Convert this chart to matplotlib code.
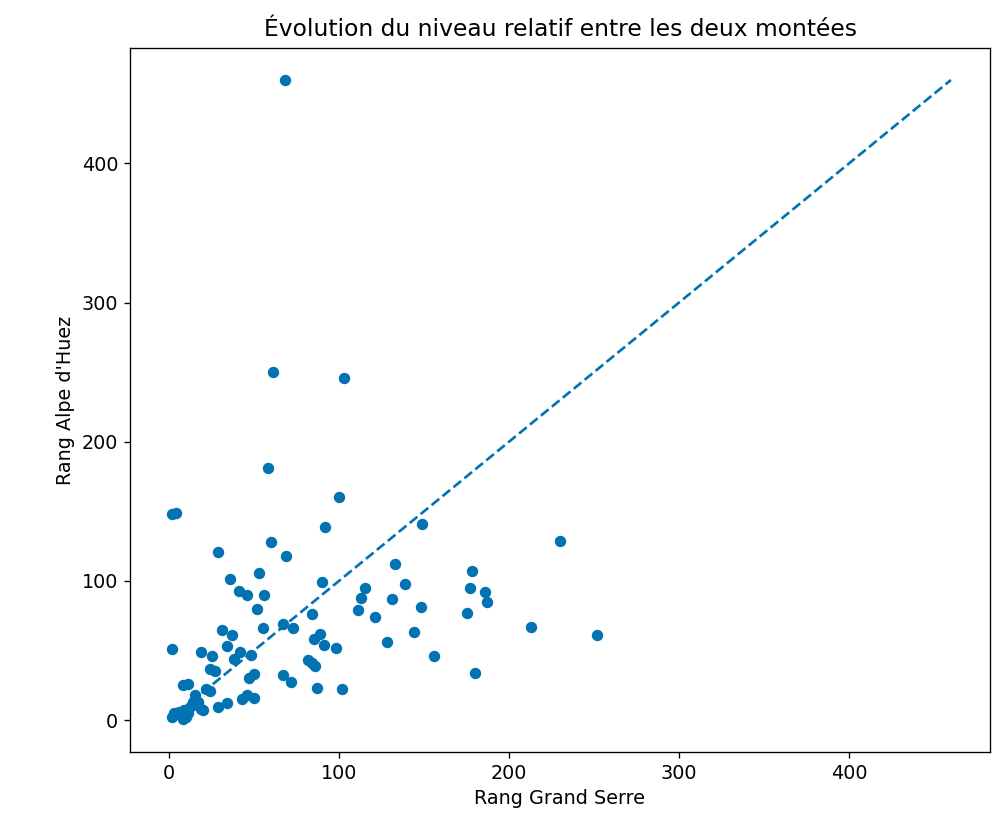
import matplotlib
matplotlib.use('Agg')
import matplotlib.pyplot as plt
import numpy as np

# rangs (Grand Serre, Alpe d'Huez)
rang_gs = [68, 61, 103, 58, 100, 2, 4, 92, 60, 149,
           29, 69, 133, 36, 53, 41, 46, 56, 90, 230,
           178, 177, 186, 187, 115, 139, 113, 131, 148, 175,
           111, 121, 52, 84, 31, 37, 55, 67, 73, 34,
           89, 85, 91, 98, 144, 128, 156, 213, 252, 180,
           2, 19, 25, 38, 42, 48, 24, 27, 82, 84,
           86, 47, 50, 67, 72, 8, 11, 22, 24, 87,
           102, 43, 46, 50, 29, 34, 15, 14, 17, 13,
           19, 20, 3, 6, 9, 11, 8, 10, 2]
rang_adh = [460, 250, 246, 181, 160, 148, 149, 139, 128, 141,
            121, 118, 112, 101, 106, 93, 90, 90, 99, 129,
            107, 95, 92, 85, 95, 98, 88, 87, 81, 77,
            79, 74, 80, 76, 65, 61, 66, 69, 66, 53,
            62, 58, 54, 52, 63, 56, 46, 67, 61, 34,
            51, 49, 46, 44, 49, 47, 37, 35, 43, 41,
            39, 30, 33, 32, 27, 25, 26, 22, 21, 23,
            22, 15, 18, 16, 9, 12, 18, 13, 13, 10,
            8, 7, 5, 6, 7, 5, 1, 2, 2]
n_max = 460

couleur = '#0173b2'

fig = plt.figure(figsize=(1004 / 120, 822 / 120), dpi=120)
ax = fig.add_axes([130 / 1004, 1 - 752 / 822, 860 / 1004, 704 / 822])

ax.scatter(rang_gs, rang_adh, color=couleur, s=34, zorder=3)
ax.plot([0, n_max], [0, n_max], '--', color=couleur, linewidth=1.6)

ax.set_title("Évolution du niveau relatif entre les deux montées", fontsize=14, pad=7)
ax.set_xlabel('Rang Grand Serre', fontsize=11.5)
ax.set_ylabel("Rang Alpe d'Huez", fontsize=11.5)
ax.set_xticks([0, 100, 200, 300, 400])
ax.set_yticks([0, 100, 200, 300, 400])
ax.tick_params(labelsize=11.5)

fig.savefig('out.png', dpi=120)
